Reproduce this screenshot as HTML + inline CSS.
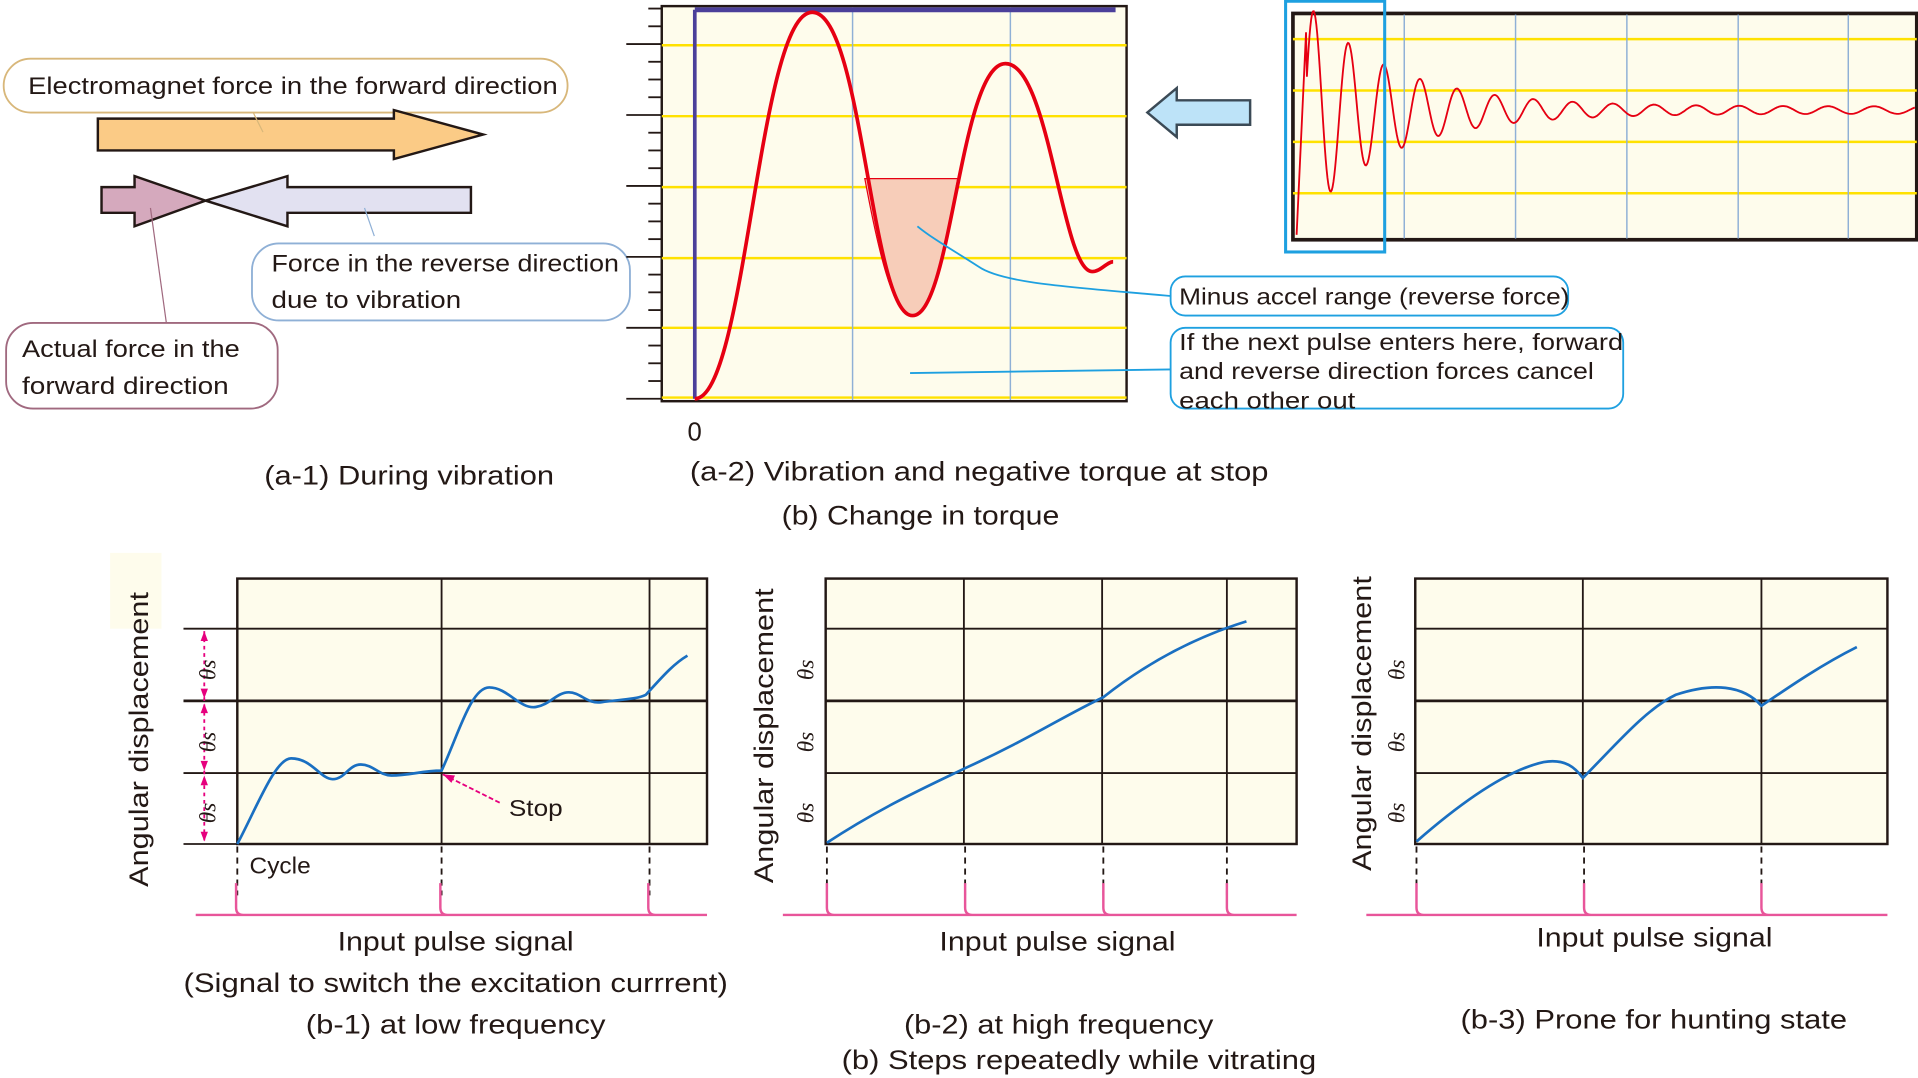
<!DOCTYPE html>
<html><head><meta charset="utf-8"><style>
html,body{margin:0;padding:0;background:#fff;overflow:hidden}
svg{display:block}
text{font-family:"Liberation Sans",sans-serif;fill:#231815}
</style></head><body>
<svg width="1918" height="1078" viewBox="0 0 1568 881.3" preserveAspectRatio="none" xmlns="http://www.w3.org/2000/svg">
<rect x="3" y="48" width="461" height="44" rx="22" fill="#fff" stroke="#d8b77a" stroke-width="1.5"/>
<text x="23" y="77" font-size="20" textLength="433" lengthAdjust="spacingAndGlyphs">Electromagnet force in the forward direction</text>
<polygon points="80,97 322,97 322,90 395,110 322,130 322,123 80,123" fill="#fbcb86" stroke="#231815" stroke-width="2"/>
<line x1="207" y1="92" x2="215" y2="108" stroke="#d8b77a"/>
<polygon points="83,153 110,153 110,144 168,164 110,185 110,174 83,174" fill="#d5a9bd" stroke="#231815" stroke-width="2"/>
<polygon points="385,153 235,153 235,144 168,164 235,185 235,174 385,174" fill="#e2e1f1" stroke="#231815" stroke-width="2"/>
<line x1="123" y1="170" x2="136" y2="264" stroke="#a0697f"/>
<line x1="298" y1="170" x2="306" y2="193" stroke="#8fb0d6"/>
<rect x="206" y="199" width="309" height="63" rx="22" fill="#fff" stroke="#8fb0d6" stroke-width="1.5"/>
<text x="222" y="222" font-size="20" textLength="284" lengthAdjust="spacingAndGlyphs">Force in the reverse direction</text>
<text x="222" y="252" font-size="20" textLength="155" lengthAdjust="spacingAndGlyphs">due to vibration</text>
<rect x="5" y="264" width="222" height="70" rx="22" fill="#fff" stroke="#a0697f" stroke-width="1.5"/>
<text x="18" y="292" font-size="20" textLength="178" lengthAdjust="spacingAndGlyphs">Actual force in the</text>
<text x="18" y="322" font-size="20" textLength="169" lengthAdjust="spacingAndGlyphs">forward direction</text>
<text x="216" y="396" font-size="22" textLength="237" lengthAdjust="spacingAndGlyphs">(a-1) During vibration</text>

<rect x="541" y="5" width="380" height="323" fill="#fefcec" stroke="#231815" stroke-width="2"/>
<g stroke="#ffe100" stroke-width="2">
<line x1="541" y1="37" x2="921" y2="37"/><line x1="541" y1="95" x2="921" y2="95"/><line x1="541" y1="153" x2="921" y2="153"/><line x1="541" y1="211" x2="921" y2="211"/><line x1="541" y1="268" x2="921" y2="268"/><line x1="541" y1="325" x2="921" y2="325"/>
</g>
<g stroke="#8fb0d6" stroke-width="1.2"><line x1="697" y1="6" x2="697" y2="327"/><line x1="826" y1="6" x2="826" y2="327"/></g>
<g stroke="#231815" stroke-width="1.5" id="ticks"></g>
<line x1="568" y1="8" x2="568" y2="326" stroke="#4b3f9a" stroke-width="3"/>
<line x1="568" y1="8" x2="912" y2="8" stroke="#4b3f9a" stroke-width="4"/>
<path d="M707,146 L783,146 C772,205 762,258 746,258 C730,258 718,205 707,146 Z" fill="#f7cdb9" stroke="#e60012" stroke-width="1"/>
<path d="M568,326 C610,326 620,10 664,10 C705,10 712,258 746,258 C778,258 785,52 822,52 C858,52 868,222 893,222 C900,222 905,214 910,214" fill="none" stroke="#e60012" stroke-width="3"/>
<text x="562" y="360" font-size="21">0</text>
<text x="564" y="393" font-size="22" textLength="473" lengthAdjust="spacingAndGlyphs">(a-2) Vibration and negative torque at stop</text>
<text x="639" y="429" font-size="22" textLength="227" lengthAdjust="spacingAndGlyphs">(b) Change in torque</text>

<rect x="957" y="226" width="325" height="32" rx="12" fill="#fff" stroke="#1ea0e0" stroke-width="1.5"/>
<text x="964" y="249" font-size="19" textLength="319" lengthAdjust="spacingAndGlyphs">Minus accel range (reverse force)</text>
<path d="M957,242 C880,235 820,232 800,218 C780,205 762,195 750,185" fill="none" stroke="#1ea0e0" stroke-width="1.5"/>
<rect x="957" y="268" width="370" height="66" rx="12" fill="#fff" stroke="#1ea0e0" stroke-width="1.5"/>
<text x="964" y="286" font-size="19" textLength="363" lengthAdjust="spacingAndGlyphs">If the next pulse enters here, forward</text>
<text x="964" y="310" font-size="19" textLength="339" lengthAdjust="spacingAndGlyphs">and reverse direction forces cancel</text>
<text x="964" y="334" font-size="19" textLength="144" lengthAdjust="spacingAndGlyphs">each other out</text>
<line x1="957" y1="302" x2="744" y2="305" stroke="#1ea0e0" stroke-width="1.5"/>

<polygon points="1022,82 962,82 962,72 938,92 962,112 962,102 1022,102" fill="#bde3f8" stroke="#3b4a56" stroke-width="2"/>

<rect x="1057" y="11" width="510" height="185" fill="#fefcec" stroke="#231815" stroke-width="3"/>
<g stroke="#ffe100" stroke-width="2"><line x1="1057" y1="32" x2="1567" y2="32"/><line x1="1057" y1="74" x2="1567" y2="74"/><line x1="1057" y1="116" x2="1567" y2="116"/><line x1="1057" y1="158" x2="1567" y2="158"/></g>
<g stroke="#8fb0d6" stroke-width="1.2"><line x1="1148" y1="12" x2="1148" y2="195"/><line x1="1239" y1="12" x2="1239" y2="195"/><line x1="1330" y1="12" x2="1330" y2="195"/><line x1="1421" y1="12" x2="1421" y2="195"/><line x1="1511" y1="12" x2="1511" y2="195"/></g>
<path id="damp" fill="none" stroke="#e60012" stroke-width="1.5"/>
<rect x="1051" y="1" width="81" height="205" fill="none" stroke="#1ea0e0" stroke-width="2.5"/>

<rect x="90" y="452" width="42" height="62" fill="#fefcec"/>
<text transform="translate(121,725) rotate(-90)" font-size="22" textLength="241" lengthAdjust="spacingAndGlyphs">Angular displacement</text>
<text transform="translate(632,722) rotate(-90)" font-size="22" textLength="241" lengthAdjust="spacingAndGlyphs">Angular displacement</text>
<text transform="translate(1121,712) rotate(-90)" font-size="22" textLength="241" lengthAdjust="spacingAndGlyphs">Angular displacement</text>

<g fill="#fefcec" stroke="#231815" stroke-width="2">
<rect x="194" y="473" width="384" height="217"/>
<rect x="675" y="473" width="385" height="217"/>
<rect x="1157" y="473" width="386" height="217"/>
</g>
<g stroke="#231815" stroke-width="1.5">
<line x1="150" y1="514" x2="578" y2="514"/><line x1="150" y1="632" x2="578" y2="632"/><line x1="150" y1="690" x2="194" y2="690"/>
<line x1="150" y1="573" x2="578" y2="573" stroke-width="2.2"/>
<line x1="361" y1="473" x2="361" y2="690"/><line x1="531" y1="473" x2="531" y2="690"/>
<line x1="675" y1="514" x2="1060" y2="514"/><line x1="675" y1="632" x2="1060" y2="632"/><line x1="675" y1="573" x2="1060" y2="573" stroke-width="2.2"/>
<line x1="788" y1="473" x2="788" y2="690"/><line x1="901" y1="473" x2="901" y2="690"/><line x1="1003" y1="473" x2="1003" y2="690"/>
<line x1="1157" y1="514" x2="1543" y2="514"/><line x1="1157" y1="632" x2="1543" y2="632"/><line x1="1157" y1="573" x2="1543" y2="573" stroke-width="2.2"/>
<line x1="1294" y1="473" x2="1294" y2="690"/><line x1="1440" y1="473" x2="1440" y2="690"/>
</g>
<g stroke="#231815" stroke-width="1.5" stroke-dasharray="5,4">
<line x1="194" y1="692" x2="194" y2="732"/><line x1="361" y1="692" x2="361" y2="732"/><line x1="531" y1="692" x2="531" y2="732"/>
<line x1="676" y1="692" x2="676" y2="732"/><line x1="789" y1="692" x2="789" y2="732"/><line x1="902" y1="692" x2="902" y2="732"/><line x1="1003" y1="692" x2="1003" y2="732"/>
<line x1="1158" y1="692" x2="1158" y2="732"/><line x1="1295" y1="692" x2="1295" y2="732"/><line x1="1440" y1="692" x2="1440" y2="732"/>
</g>
<g fill="none" stroke="#e8559a" stroke-width="2">
<path d="M160,748 L578,748 M193,722 L193,742 Q193,748 199,748 M360,722 L360,742 Q360,748 366,748 M530,722 L530,742 Q530,748 536,748"/>
<path d="M640,748 L1060,748 M676,722 L676,742 Q676,748 682,748 M789,722 L789,742 Q789,748 795,748 M902,722 L902,742 Q902,748 908,748 M1003,722 L1003,742 Q1003,748 1009,748"/>
<path d="M1117,748 L1543,748 M1158,722 L1158,742 Q1158,748 1164,748 M1295,722 L1295,742 Q1295,748 1301,748 M1440,722 L1440,742 Q1440,748 1446,748"/>
</g>
<g stroke="#e6007e" stroke-width="1.5" stroke-dasharray="3,3">
<line x1="167" y1="516" x2="167" y2="688"/>
</g>
<g fill="#e6007e">
<polygon points="167,516 164,524 170,524"/><polygon points="167,571 164,563 170,563"/>
<polygon points="167,575 164,583 170,583"/><polygon points="167,630 164,622 170,622"/>
<polygon points="167,634 164,642 170,642"/><polygon points="167,688 164,680 170,680"/>
</g>
<g font-size="19" font-style="italic" fill="#6a5b3e">
<text transform="translate(176,556) rotate(-90)" style="font-family:'Liberation Serif',serif">θs</text>
<text transform="translate(176,615) rotate(-90)" style="font-family:'Liberation Serif',serif">θs</text>
<text transform="translate(176,673) rotate(-90)" style="font-family:'Liberation Serif',serif">θs</text>
<text transform="translate(665,556) rotate(-90)" style="font-family:'Liberation Serif',serif">θs</text>
<text transform="translate(665,615) rotate(-90)" style="font-family:'Liberation Serif',serif">θs</text>
<text transform="translate(665,673) rotate(-90)" style="font-family:'Liberation Serif',serif">θs</text>
<text transform="translate(1148,556) rotate(-90)" style="font-family:'Liberation Serif',serif">θs</text>
<text transform="translate(1148,615) rotate(-90)" style="font-family:'Liberation Serif',serif">θs</text>
<text transform="translate(1148,673) rotate(-90)" style="font-family:'Liberation Serif',serif">θs</text>
</g>
<g fill="none" stroke="#1a6fc1" stroke-width="2.2">
<path d="M194,690 C210,660 225,620 238,620 C255,620 262,637 272,637 C282,637 285,625 295,625 C305,625 310,634 320,634 C335,634 345,630 361,630 C375,600 385,562 400,562 C415,562 425,580 438,578 C450,576 455,566 465,566 C475,566 480,576 492,574 C505,572 520,572 528,568 C540,555 550,543 562,536"/>
<path d="M676,689 C720,660 760,642 789,628 C840,605 870,585 902,570 C940,540 980,520 1019,508"/>
<path d="M1158,688 C1190,660 1230,630 1262,623 C1280,620 1288,628 1294,636 C1320,610 1345,580 1370,568 C1400,558 1425,560 1440,577 C1465,560 1490,543 1518,529"/>
</g>
<line x1="362" y1="633" x2="410" y2="657" stroke="#e6007e" stroke-width="1.5" stroke-dasharray="4,2"/>
<polygon points="362,633 372,634 369,640" fill="#e6007e"/>
<text x="416" y="667" font-size="19" textLength="44" lengthAdjust="spacingAndGlyphs">Stop</text>
<text x="204" y="714" font-size="19" textLength="50" lengthAdjust="spacingAndGlyphs">Cycle</text>

<text x="276" y="777" font-size="22" textLength="193" lengthAdjust="spacingAndGlyphs">Input pulse signal</text>
<text x="150" y="811" font-size="22" textLength="445" lengthAdjust="spacingAndGlyphs">(Signal to switch the excitation currrent)</text>
<text x="250" y="845" font-size="22" textLength="245" lengthAdjust="spacingAndGlyphs">(b-1) at low frequency</text>
<text x="768" y="777" font-size="22" textLength="193" lengthAdjust="spacingAndGlyphs">Input pulse signal</text>
<text x="739" y="845" font-size="22" textLength="253" lengthAdjust="spacingAndGlyphs">(b-2) at high frequency</text>
<text x="688" y="874" font-size="22" textLength="388" lengthAdjust="spacingAndGlyphs">(b) Steps repeatedly while vitrating</text>
<text x="1256" y="774" font-size="22" textLength="193" lengthAdjust="spacingAndGlyphs">Input pulse signal</text>
<text x="1194" y="841" font-size="22" textLength="316" lengthAdjust="spacingAndGlyphs">(b-3) Prone for hunting state</text>
</svg>
<script>
var t=document.getElementById('ticks'),s='';
for(var i=0;i<=22;i++){var y=326-i*14.5;var big=(i%4==0);s+='<line x1="'+(big?512:530)+'" y1="'+y+'" x2="541" y2="'+y+'"/>';}
t.innerHTML=s;
var d='M1060,192',x0=1060;
for(var x=1060;x<=1566;x+=0.7){var u=x-x0;var per=28+u*0.01;var a=95*Math.exp(-u/70)+3;var y;
if(u<8){y=192-(192-20)*u/8;}else{y=90-a*Math.cos(2*Math.PI*(u-14)/per);}
d+=' L'+x.toFixed(1)+','+y.toFixed(1);}
document.getElementById('damp').setAttribute('d',d);
</script>
</body></html>
